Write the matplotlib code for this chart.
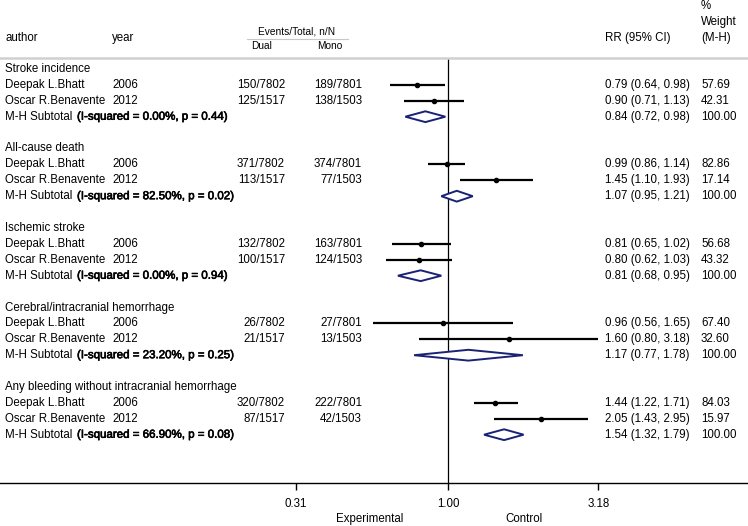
import numpy as np
import matplotlib
matplotlib.use("Agg")
import matplotlib.pyplot as plt
from matplotlib.patches import Polygon
from matplotlib.lines import Line2D
import matplotlib.transforms as mtransforms
import matplotlib.patheffects as pe
from matplotlib.ticker import NullLocator

plt.rcParams['font.family'] = ['Liberation Sans', 'DejaVu Sans']

# ---------------- data ----------------
groups = ["Stroke incidence", "All-cause death", "Ischemic stroke",
          "Cerebral/intracranial hemorrhage",
          "Any bleeding without intracranial hemorrhage"]
authors = ["Deepak L.Bhatt", "Oscar R.Benavente"]
years = ["2006", "2012"]
dual = [["150/7802", "125/1517"], ["371/7802", "113/1517"], ["132/7802", "100/1517"],
        ["26/7802", "21/1517"], ["320/7802", "87/1517"]]
mono = [["189/7801", "138/1503"], ["374/7801", "77/1503"], ["163/7801", "124/1503"],
        ["27/7801", "13/1503"], ["222/7801", "42/1503"]]
rr = [[0.79, 0.90], [0.99, 1.45], [0.81, 0.80], [0.96, 1.60], [1.44, 2.05]]
lo = [[0.64, 0.71], [0.86, 1.10], [0.65, 0.62], [0.56, 0.80], [1.22, 1.43]]
hi = [[0.98, 1.13], [1.14, 1.93], [1.02, 1.03], [1.65, 3.18], [1.71, 2.95]]
weights = [["57.69", "42.31"], ["82.86", "17.14"], ["56.68", "43.32"],
           ["67.40", "32.60"], ["84.03", "15.97"]]
sub_rr = [0.84, 1.07, 0.81, 1.17, 1.54]
sub_lo = [0.72, 0.95, 0.68, 0.77, 1.32]
sub_hi = [0.98, 1.21, 0.95, 1.78, 1.79]
sub_i2 = ["0.00%", "82.50%", "0.00%", "23.20%", "66.90%"]
sub_p = ["0.44", "0.02", "0.94", "0.25", "0.08"]
xticks = [0.31, 1.00, 3.18]
xticklabels = ["0.31", "1.00", "3.18"]

# ---------------- layout ----------------
W, H = 748, 526
fig = plt.figure(figsize=(W / 100, H / 100), dpi=100)
axis_px = 483
ax = fig.add_axes([0, (H - axis_px) / H, 1, axis_px / H])
ppd = 299.0   # pixels per decade
one_px = 448.0
ax.set_xscale('log')
ax.set_xlim(10 ** (-one_px / ppd), 10 ** ((W - one_px) / ppd))
row_h = 15.9
row0 = 69.0
ax.set_ylim((axis_px - row0) / row_h, -row0 / row_h)

for s in ['top', 'left', 'right']:
    ax.spines[s].set_visible(False)
ax.spines['bottom'].set_linewidth(1.0)
ax.set_yticks([])
ax.set_xticks(xticks)
ax.xaxis.set_minor_locator(NullLocator())
ax.set_xticklabels(xticklabels)
ax.tick_params(axis='x', direction='out', length=5, width=1, pad=6, labelsize=8.3)
ax.patch.set_alpha(0)

fs = 8.3
tr = mtransforms.blended_transform_factory(fig.transFigure, ax.transData)
faux_bold = [pe.withStroke(linewidth=0.45, foreground='black')]

def fx(px):
    return px / W

def fy(py):
    return 1 - py / H

# header
fig.text(fx(5), fy(38), "author", fontsize=fs, va='center', ha='left')
fig.text(fx(112), fy(38), "year", fontsize=fs, va='center', ha='left')
fig.text(fx(297), fy(31), "Events/Total, n/N", fontsize=7.3, va='center', ha='center')
fig.add_artist(Line2D([fx(247), fx(348)], [fy(39), fy(39)], transform=fig.transFigure,
                      color='#c8c8c8', lw=0.8))
fig.text(fx(262), fy(46), "Dual", fontsize=7.3, va='center', ha='center')
fig.text(fx(330), fy(46), "Mono", fontsize=7.3, va='center', ha='center')
fig.text(fx(605), fy(38), "RR (95% CI)", fontsize=fs, va='center', ha='left')
fig.text(fx(701), fy(6), "%", fontsize=fs, va='center', ha='left')
fig.text(fx(701), fy(22), "Weight", fontsize=fs, va='center', ha='left')
fig.text(fx(701), fy(38), "(M-H)", fontsize=fs, va='center', ha='left')
fig.add_artist(Line2D([0, 1], [fy(58), fy(58)], transform=fig.transFigure,
                      color='#d0d0d0', lw=1.8))

# vertical null line
ax.vlines(1.0, (58 - row0) / row_h, (axis_px - row0) / row_h, color='black', lw=0.9)

navy = '#1a2276'
for g, name in enumerate(groups):
    base = 5 * g
    ax.text(fx(5), base, name, transform=tr, fontsize=fs, va='center', ha='left')
    for i in range(2):
        y = base + 1 + i
        ax.text(fx(5), y, authors[i], transform=tr, fontsize=fs, va='center', ha='left')
        ax.text(fx(112), y, years[i], transform=tr, fontsize=fs, va='center', ha='left')
        ax.text(fx(285), y, dual[g][i], transform=tr, fontsize=fs, va='center', ha='right')
        ax.text(fx(362), y, mono[g][i], transform=tr, fontsize=fs, va='center', ha='right')
        ax.text(fx(605), y, f"{rr[g][i]:.2f} ({lo[g][i]:.2f}, {hi[g][i]:.2f})",
                transform=tr, fontsize=fs, va='center', ha='left')
        ax.text(fx(701), y, weights[g][i], transform=tr, fontsize=fs, va='center', ha='left')
        ax.hlines(y, lo[g][i], hi[g][i], color='black', lw=1.6)
        ax.plot([rr[g][i]], [y], 'o', color='black', ms=3.0)
    ys = base + 3
    ax.text(fx(5), ys, "M-H Subtotal", transform=tr, fontsize=fs, va='center', ha='left')
    ax.text(fx(77), ys, f"(I-squared = {sub_i2[g]}, p = {sub_p[g]})", transform=tr,
            fontsize=fs, va='center', ha='left', path_effects=faux_bold)
    ax.text(fx(605), ys, f"{sub_rr[g]:.2f} ({sub_lo[g]:.2f}, {sub_hi[g]:.2f})",
            transform=tr, fontsize=fs, va='center', ha='left')
    ax.text(fx(701), ys, "100.00", transform=tr, fontsize=fs, va='center', ha='left')
    h = 0.34
    dia = Polygon([(sub_lo[g], ys), (sub_rr[g], ys - h), (sub_hi[g], ys), (sub_rr[g], ys + h)],
                  closed=True, facecolor='white', edgecolor=navy, lw=1.4, zorder=3)
    ax.add_patch(dia)

fig.text(fx(370), fy(519), "Experimental", fontsize=fs, va='center', ha='center')
fig.text(fx(524), fy(519), "Control", fontsize=fs, va='center', ha='center')

fig.savefig("out.png", dpi=100, facecolor='white')
